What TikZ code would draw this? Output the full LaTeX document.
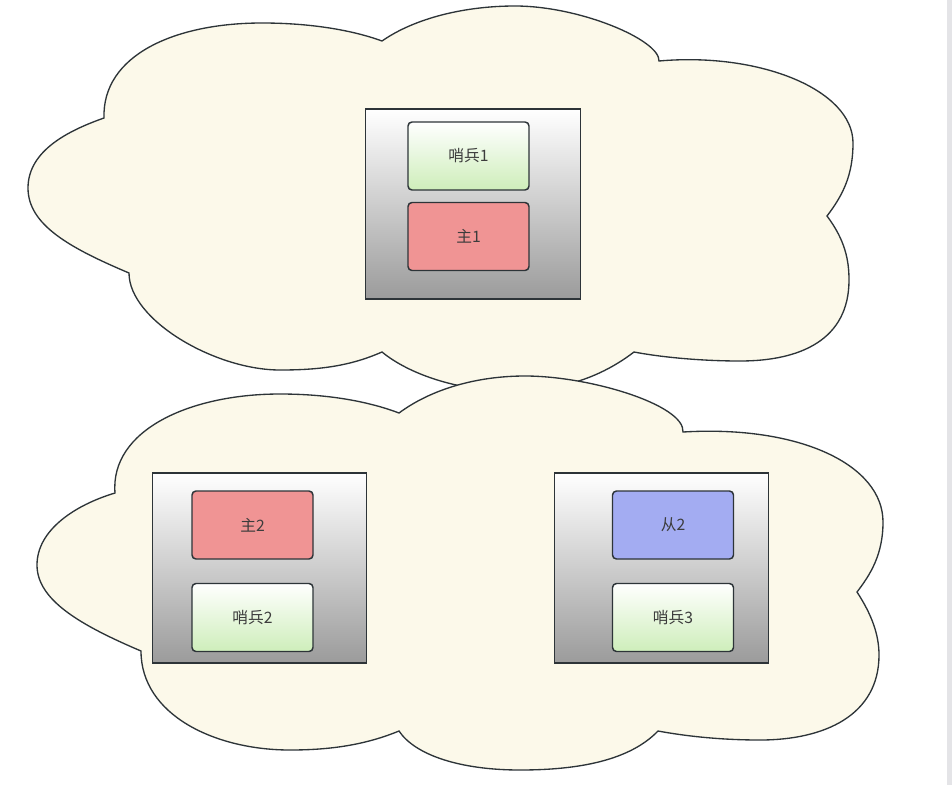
\documentclass[tikz,border=0pt]{standalone}
\usepackage{fontspec}
\setmainfont{Noto Sans CJK SC}
\definecolor{cloudfill}{RGB}{252,249,234}
\definecolor{linecol}{RGB}{45,52,56}
\definecolor{txtcol}{RGB}{60,60,60}
\definecolor{mastercol}{RGB}{240,148,148}
\definecolor{slavecol}{RGB}{163,172,242}
\definecolor{sentcol}{RGB}{206,238,186}
\definecolor{hostgray}{RGB}{155,155,155}
\definecolor{stripcol}{RGB}{228,228,231}
\begin{document}
\begin{tikzpicture}[x=0.75pt,y=-0.75pt,
        cloud/.style={
        draw=linecol, line width=1pt,
        fill=cloudfill, line join=miter},
        hostbox/.style={
        rectangle, draw=linecol, line width=0.9pt,
        top color=white, bottom color=hostgray,
        minimum width=161pt, minimum height=142.5pt,
        inner sep=0pt},
        rolebox/.style={
        rectangle, rounded corners=3pt,
        draw=linecol, line width=1.1pt,
        minimum width=90.75pt, minimum height=51pt,
        inner sep=0pt, text=txtcol,
        font=\fontsize{11.8}{14}\selectfont},
        sentinel/.style={rolebox, top color=white, bottom color=sentcol},
        master/.style={rolebox, fill=mastercol},
        slave/.style={rolebox, fill=slavecol},
        ]

        \useasboundingbox (0,0) rectangle (952,785);
        \fill[white] (0,0) rectangle (952,785);
        \fill[stripcol] (947,0) rectangle (952,785);

        % upper cloud
        \path[cloud] (104,118)
            .. controls (102,55) and (175,23) .. (262,23)
            .. controls (310,23) and (352,30) .. (382,41)
            .. controls (415,18) and (465,6) .. (515,6)
            .. controls (580,6) and (660,40) .. (659,61)
            .. controls (760,52) and (853,90) .. (853,143)
            .. controls (853,175) and (843,195) .. (827,216)
            .. controls (845,240) and (849,260) .. (849,280)
            .. controls (849,340) and (800,361) .. (740,361)
            .. controls (700,361) and (660,357) .. (634,352)
            .. controls (600,378) and (560,391) .. (510,391)
            .. controls (460,391) and (410,375) .. (382,352)
            .. controls (350,366) and (320,370) .. (280,370)
            .. controls (215,370) and (129,320) .. (129,273)
            .. controls (70,248) and (28,225) .. (28,188)
            .. controls (28,150) and (70,130) .. (104,118)
            -- cycle;

        % lower cloud
        \path[cloud] (115,493)
            .. controls (110,430) and (190,394) .. (280,394)
            .. controls (330,394) and (370,402) .. (399,413)
            .. controls (430,390) and (475,376) .. (525,376)
            .. controls (590,376) and (685,405) .. (683,432)
            .. controls (800,425) and (883,465) .. (883,522)
            .. controls (883,555) and (870,575) .. (857,592)
            .. controls (872,615) and (879,635) .. (879,655)
            .. controls (879,715) and (825,740) .. (760,740)
            .. controls (720,740) and (685,736) .. (658,731)
            .. controls (630,760) and (580,770) .. (520,770)
            .. controls (460,770) and (415,755) .. (399,731)
            .. controls (365,745) and (330,750) .. (290,750)
            .. controls (215,750) and (141,715) .. (141,651)
            .. controls (80,625) and (37,600) .. (37,565)
            .. controls (37,530) and (75,505) .. (115,493)
            -- cycle;

        \node (host1) [hostbox] at (473,204) {};
        \node (host2) [hostbox] at (259.5,568) {};
        \node (host3) [hostbox] at (661.5,568) {};

        \node (s1) [sentinel] at (468.5,156) {哨兵1};
        \node (m1) [master]   at (468.5,236.5) {主1};

        \node (m2) [master]   at (252.5,525) {主2};
        \node (s2) [sentinel] at (252.5,617.5) {哨兵2};

        \node (r2) [slave]    at (673,525) {从2};
        \node (s3) [sentinel] at (673,617.5) {哨兵3};
    \end{tikzpicture}
\end{document}
